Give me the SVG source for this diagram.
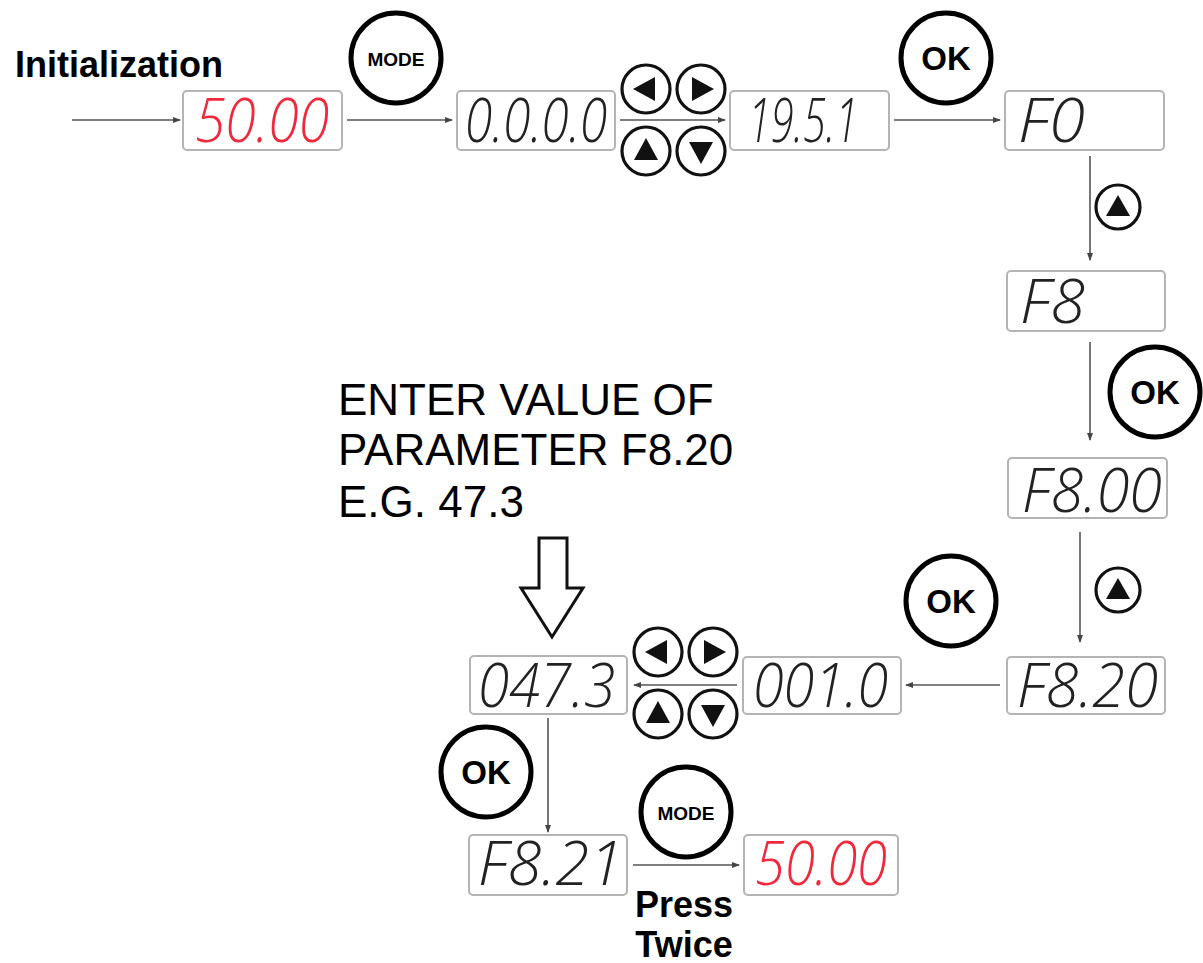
<svg xmlns="http://www.w3.org/2000/svg" width="1203" height="963" viewBox="0 0 1203 963">
<style>
.box{fill:#fff;stroke:#b4b4b4;stroke-width:2}
.seg{font-family:"Open Sans","Roboto","DejaVu Sans",sans-serif;font-weight:300;font-style:italic;font-size:60px;fill:#222}
.red{fill:#f0283c}
.btn{fill:#fff;stroke:#000;stroke-width:5}
.key{fill:#fff;stroke:#111;stroke-width:3.2}
.tri{fill:#111}
.lbl{font-family:"Liberation Sans",Arial,sans-serif;font-weight:bold;fill:#000}
.big{font-family:"Liberation Sans",Arial,sans-serif;font-size:44px;fill:#000}
.con{stroke:#555;stroke-width:1.6;fill:none}
</style>
<defs>
<marker id="ah" markerWidth="8" markerHeight="6" refX="7" refY="3" orient="auto" markerUnits="userSpaceOnUse">
<path d="M0,0 L8,3 L0,6 Z" fill="#444"/>
</marker>
<g id="keypad">
<circle class="key" cx="0" cy="0" r="24"/>
<path class="tri" d="M-13,0 L9,-12 L9,12 Z"/>
<circle class="key" cx="55" cy="0" r="24"/>
<path class="tri" d="M68,0 L46,-12 L46,12 Z"/>
<circle class="key" cx="0" cy="62" r="24"/>
<path class="tri" d="M0,49 L-12,71 L12,71 Z"/>
<circle class="key" cx="55" cy="62" r="24"/>
<path class="tri" d="M55,75 L43,53 L67,53 Z"/>
</g>
</defs>
<rect width="1203" height="963" fill="#fff"/>

<g id="connectors">
<line class="con" x1="72" y1="120" x2="180" y2="120" marker-end="url(#ah)"/>
<line class="con" x1="347" y1="120" x2="452" y2="120" marker-end="url(#ah)"/>
<line class="con" x1="620" y1="120" x2="725" y2="120" marker-end="url(#ah)"/>
<line class="con" x1="894" y1="120" x2="1000" y2="120" marker-end="url(#ah)"/>
<line class="con" x1="1090" y1="156" x2="1090" y2="260" marker-end="url(#ah)"/>
<line class="con" x1="1090" y1="342" x2="1090" y2="440" marker-end="url(#ah)"/>
<line class="con" x1="1080" y1="532" x2="1080" y2="642" marker-end="url(#ah)"/>
<line class="con" x1="1000" y1="685" x2="906" y2="685" marker-end="url(#ah)"/>
<line class="con" x1="737" y1="685" x2="634" y2="685" marker-end="url(#ah)"/>
<line class="con" x1="548" y1="718" x2="548" y2="832" marker-end="url(#ah)"/>
<line class="con" x1="633" y1="865" x2="739" y2="865" marker-end="url(#ah)"/>
</g>

<text class="lbl" x="15" y="77" font-size="36">Initialization</text>

<g id="disp-init">
<rect class="box" x="183" y="91" width="159" height="59" rx="4"/>
<text class="seg red" x="195" y="142" textLength="134" lengthAdjust="spacingAndGlyphs">50.00</text>
</g>
<g id="btn-mode-1">
<circle class="btn" cx="396" cy="58" r="45"/>
<text class="lbl" x="396" y="66" font-size="19" text-anchor="middle">MODE</text>
</g>
<g id="disp-0000">
<rect class="box" x="457" y="91" width="158" height="59" rx="4"/>
<text class="seg" x="465" y="142" textLength="142" lengthAdjust="spacingAndGlyphs">0.0.0.0</text>
</g>
<g id="keys-1"><use href="#keypad" x="646" y="89"/></g>
<g id="disp-1951">
<rect class="box" x="730" y="91" width="159" height="59" rx="4"/>
<text class="seg" x="748" y="142" textLength="110" lengthAdjust="spacingAndGlyphs">19.5.1</text>
</g>
<g id="btn-ok-1">
<circle class="btn" cx="946" cy="58" r="45"/>
<text class="lbl" x="946" y="70" font-size="33" text-anchor="middle">OK</text>
</g>
<g id="disp-F0">
<rect class="box" x="1005" y="91" width="159" height="59" rx="4"/>
<text class="seg" x="1018" y="142" textLength="67" lengthAdjust="spacingAndGlyphs">F0</text>
</g>
<g id="btn-up-1">
<circle class="key" cx="1118" cy="207" r="22"/>
<path class="tri" d="M1118,195 L1106,216 L1130,216 Z"/>
</g>
<g id="disp-F8">
<rect class="box" x="1007" y="271" width="158" height="60" rx="4"/>
<text class="seg" x="1020" y="323" textLength="65" lengthAdjust="spacingAndGlyphs">F8</text>
</g>
<g id="btn-ok-2">
<circle class="btn" cx="1155" cy="392" r="45"/>
<text class="lbl" x="1155" y="404" font-size="33" text-anchor="middle">OK</text>
</g>
<g id="disp-F800">
<rect class="box" x="1008" y="458" width="159" height="60" rx="4"/>
<text class="seg" x="1022" y="512" textLength="140" lengthAdjust="spacingAndGlyphs">F8.00</text>
</g>
<g id="btn-up-2">
<circle class="key" cx="1118" cy="590" r="22"/>
<path class="tri" d="M1118,578 L1106,599 L1130,599 Z"/>
</g>
<g id="disp-F820">
<rect class="box" x="1007" y="657" width="158" height="57" rx="4"/>
<text class="seg" x="1017" y="707" textLength="141" lengthAdjust="spacingAndGlyphs">F8.20</text>
</g>
<g id="btn-ok-3">
<circle class="btn" cx="951" cy="601" r="45"/>
<text class="lbl" x="951" y="613" font-size="33" text-anchor="middle">OK</text>
</g>
<g id="disp-0010">
<rect class="box" x="743" y="657" width="158" height="57" rx="4"/>
<text class="seg" x="753" y="707" textLength="135" lengthAdjust="spacingAndGlyphs">001.0</text>
</g>
<g id="keys-2"><use href="#keypad" x="658" y="652"/></g>
<g id="disp-0473">
<rect class="box" x="470" y="656" width="157" height="58" rx="4"/>
<text class="seg" x="478" y="707" textLength="137" lengthAdjust="spacingAndGlyphs">047.3</text>
</g>

<g id="note">
<text class="big" x="338" y="415">ENTER VALUE OF</text>
<text class="big" x="338" y="465">PARAMETER F8.20</text>
<text class="big" x="338" y="517">E.G. 47.3</text>
</g>
<g id="hollow-arrow">
<polygon points="539,538 567,538 567,588 583,588 552,637 521,588 539,588" fill="#fff" stroke="#111" stroke-width="3" stroke-linejoin="miter"/>
</g>

<g id="btn-ok-4">
<circle class="btn" cx="486" cy="772" r="45"/>
<text class="lbl" x="486" y="784" font-size="33" text-anchor="middle">OK</text>
</g>
<g id="disp-F821">
<rect class="box" x="469" y="835" width="158" height="60" rx="4"/>
<text class="seg" x="478" y="885" textLength="145" lengthAdjust="spacingAndGlyphs">F8.21</text>
</g>
<g id="btn-mode-2">
<circle class="btn" cx="686" cy="812" r="45"/>
<text class="lbl" x="686" y="820" font-size="19" text-anchor="middle">MODE</text>
</g>
<g id="disp-final">
<rect class="box" x="744" y="835" width="154" height="60" rx="4"/>
<text class="seg red" x="755" y="885" textLength="132" lengthAdjust="spacingAndGlyphs">50.00</text>
</g>
<text class="lbl" x="684" y="917" font-size="36" text-anchor="middle">Press</text>
<text class="lbl" x="684" y="957" font-size="36" text-anchor="middle">Twice</text>
</svg>
